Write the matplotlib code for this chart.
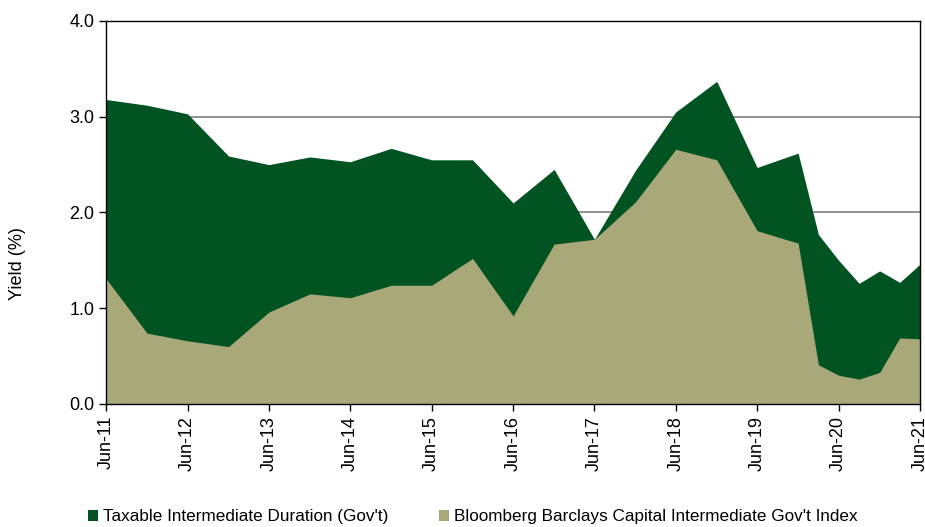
import matplotlib
matplotlib.use("Agg")
import matplotlib.pyplot as plt
import matplotlib.dates as mdates
from matplotlib.patches import Patch
import pandas as pd

plt.rcParams['font.family'] = ['Liberation Sans', 'DejaVu Sans']

# semiannual to Dec-19, quarterly after that
dates = ["2011-06-30", "2011-12-31", "2012-06-30", "2012-12-31", "2013-06-30",
         "2013-12-31", "2014-06-30", "2014-12-31", "2015-06-30", "2015-12-31",
         "2016-06-30", "2016-12-31", "2017-06-30", "2017-12-31", "2018-06-30",
         "2018-12-31", "2019-06-30", "2019-12-31", "2020-03-31", "2020-06-30",
         "2020-09-30", "2020-12-31", "2021-03-31", "2021-06-30"]
taxable = [3.18, 3.12, 3.03, 2.59, 2.50, 2.58, 2.53, 2.67, 2.55, 2.55,
           2.10, 2.45, 1.72, 2.44, 3.05, 3.37, 2.47, 2.62, 1.77, 1.50,
           1.26, 1.39, 1.27, 1.46]
index_yield = [1.31, 0.74, 0.66, 0.60, 0.96, 1.15, 1.11, 1.24, 1.24, 1.52,
               0.92, 1.67, 1.72, 2.11, 2.66, 2.55, 1.81, 1.68, 0.41, 0.30,
               0.26, 0.33, 0.69, 0.68]
series_names = ["Taxable Intermediate Duration (Gov't)",
                "Bloomberg Barclays Capital Intermediate Gov't Index"]
colors = ["#025322", "#a9a878"]

x = pd.to_datetime(dates)

fig = plt.figure(figsize=(9.25, 5.27), dpi=100)
ax = fig.add_axes([0.1146, 0.2334, 0.8800, 0.7268])

ax.fill_between(x, 0, taxable, color=colors[0], linewidth=0, zorder=2)
ax.fill_between(x, 0, index_yield, color=colors[1], linewidth=0, zorder=3)

ax.set_ylim(0, 4.0)
ax.set_yticks([0, 1, 2, 3, 4])
ax.yaxis.set_major_formatter(plt.FormatStrFormatter('%.1f'))
ax.set_xlim(x[0], x[-1])
ax.xaxis.set_major_locator(mdates.MonthLocator(bymonth=6, bymonthday=30))
ax.xaxis.set_major_formatter(mdates.DateFormatter('%b-%y'))
ax.grid(axis='y', color='#808080', linewidth=1.2, zorder=1)
ax.set_axisbelow(True)

ax.tick_params(axis='both', labelsize=13, length=5, width=1, color='black')
plt.setp(ax.get_xticklabels(), rotation=90)
for s in ax.spines.values():
    s.set_linewidth(1)
    s.set_color('black')
    s.set_zorder(4)

fig.text(17 / 925, 1 - 264 / 527, "Yield (%)", rotation=90, fontsize=13,
         ha='center', va='center')

handles = [Patch(facecolor=c, edgecolor='none') for c in colors]
fig.legend(handles, series_names, loc='center', bbox_to_anchor=(0.511, 1 - 517 / 527),
           ncol=2, frameon=False, fontsize=12.3, handlelength=0.6, handleheight=0.6,
           handletextpad=0.25, columnspacing=3.0)

fig.savefig("out.png", dpi=100)
